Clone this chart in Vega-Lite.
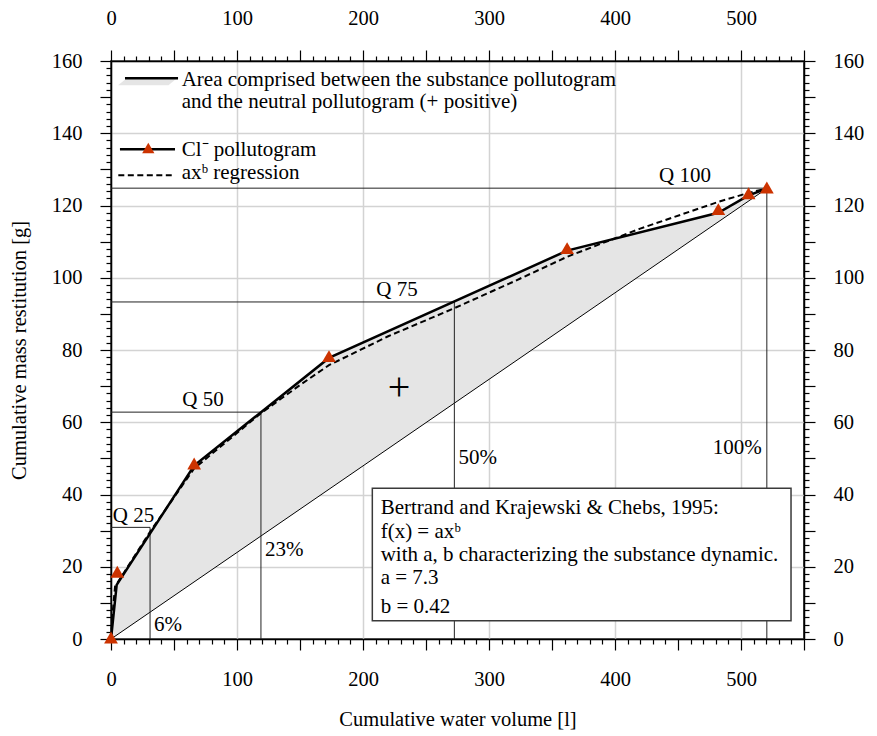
{
  "$schema": "https://vega.github.io/schema/vega-lite/v6.json",
  "width": 693,
  "height": 578,
  "autosize": "none",
  "padding": {"left": 111, "top": 61, "right": 73, "bottom": 97},
  "background": "white",
  "config": {
    "font": "Liberation Serif",
    "view": {"stroke": "black", "strokeWidth": 1.5},
    "axis": {
      "labelFont": "Liberation Serif", "labelFontSize": 20.5, "labelColor": "black",
      "titleFont": "Liberation Serif", "titleFontSize": 20.5, "titleFontWeight": "normal", "titleColor": "black",
      "domainColor": "black", "domainWidth": 1.5, "tickColor": "black", "tickWidth": 1.2,
      "gridColor": "#d3d3d3", "gridWidth": 1.5,
      "labelOverlap": false, "labelBound": false, "labelFlush": false
    },
    "text": {"font": "Liberation Serif", "fontSize": 21, "color": "black"}
  },
  "datasets": {
    "shade": [
      {"x": 0, "top": 0, "bottom": 0},
      {"x": 4.5, "top": 15, "bottom": 1.08},
      {"x": 66, "top": 48, "bottom": 15.83},
      {"x": 173, "top": 77.8, "bottom": 41.49},
      {"x": 362, "top": 107.5, "bottom": 86.81},
      {"x": 482, "top": 118, "bottom": 115.59},
      {"x": 506, "top": 122.8, "bottom": 121.34},
      {"x": 520.5, "top": 124.7, "bottom": 124.7}
    ],
    "poll": [
      {"x": 0, "y": 0},
      {"x": 4.5, "y": 15},
      {"x": 66, "y": 48},
      {"x": 173, "y": 77.8},
      {"x": 362, "y": 107.5},
      {"x": 482, "y": 118},
      {"x": 506, "y": 122.8},
      {"x": 520.5, "y": 124.7}
    ],
    "marks": [
      {"x": 0, "y": 0.4},
      {"x": 5, "y": 18.6},
      {"x": 66, "y": 48.6},
      {"x": 173, "y": 78.3},
      {"x": 362, "y": 108.2},
      {"x": 482, "y": 119},
      {"x": 506, "y": 123.4},
      {"x": 520.5, "y": 125}
    ],
    "fit": [
      {"x": 0, "y": 0},
      {"x": 1.5, "y": 8},
      {"x": 3.2, "y": 14.5},
      {"x": 10, "y": 18.2},
      {"x": 31, "y": 29.7},
      {"x": 66, "y": 47.2},
      {"x": 119, "y": 62.5},
      {"x": 150, "y": 70.3},
      {"x": 173, "y": 75.8},
      {"x": 220, "y": 83.8},
      {"x": 272, "y": 91.5},
      {"x": 320, "y": 99},
      {"x": 362, "y": 105.8},
      {"x": 420, "y": 113.6},
      {"x": 482, "y": 121},
      {"x": 506, "y": 123.5},
      {"x": 520.5, "y": 124.7}
    ],
    "neutral": [{"x1": 0, "y1": 0, "x2": 520.5, "y2": 124.7}],
    "qlines": [
      {"x1": 0, "x2": 31, "y1": 30.9, "y2": 30.9},
      {"x1": 31, "x2": 31, "y1": 0, "y2": 30.9},
      {"x1": 0, "x2": 119, "y1": 62.8, "y2": 62.8},
      {"x1": 119, "x2": 119, "y1": 0, "y2": 62.8},
      {"x1": 0, "x2": 272.5, "y1": 93.3, "y2": 93.3},
      {"x1": 272.5, "x2": 272.5, "y1": 0, "y2": 93.3},
      {"x1": 0, "x2": 520.5, "y1": 124.8, "y2": 124.8},
      {"x1": 520.5, "x2": 520.5, "y1": 0, "y2": 124.8}
    ],
    "box": [{"x1": 207.4, "x2": 539.7, "y1": 5.07, "y2": 41.7}],
    "lefttext": [
      {"x": 214, "y": 36.3, "label": "Bertrand and Krajewski & Chebs, 1995:"},
      {"x": 214, "y": 29.6, "label": "f(x) = axᵇ"},
      {"x": 214, "y": 23.3, "label": "with a, b characterizing the substance dynamic."},
      {"x": 214, "y": 16.9, "label": "a = 7.3"},
      {"x": 214, "y": 8.9, "label": "b = 0.42"},
      {"x": 56.1, "y": 154.7, "label": "Area comprised between the substance pollutogram"},
      {"x": 56.1, "y": 148.7, "label": "and the neutral pollutogram (+ positive)"},
      {"x": 56.1, "y": 135.4, "label": "Cl⁻ pollutogram"},
      {"x": 56.1, "y": 129.1, "label": "axᵇ regression"},
      {"x": 34.2, "y": 3.9, "label": "6%"},
      {"x": 122.2, "y": 24.5, "label": "23%"},
      {"x": 275.7, "y": 50.1, "label": "50%"}
    ],
    "righttext": [{"x": 516.5, "y": 53, "label": "100%"}],
    "qtext": [
      {"x": 17.9, "y": 32.5, "label": "Q 25"},
      {"x": 73, "y": 64.4, "label": "Q 50"},
      {"x": 227, "y": 94.9, "label": "Q 75"},
      {"x": 455.5, "y": 126.4, "label": "Q 100"}
    ],
    "plus": [{"x": 228.6, "y": 69.5, "label": "+"}],
    "legshade": [
      {"x": 5.6, "top": 153.3, "bottom": 153.3},
      {"x": 13.5, "top": 155.5, "bottom": 153.3},
      {"x": 45.6, "top": 155.5, "bottom": 153.3},
      {"x": 53.2, "top": 155.5, "bottom": 155.5}
    ],
    "legsolid": [
      {"x1": 11.1, "x2": 53.2, "y": 155.2},
      {"x1": 7.1, "x2": 50.8, "y": 135.6}
    ],
    "legdash": [{"x1": 5.8, "x2": 48.2, "y": 128.4}],
    "legmark": [{"x": 29.6, "y": 135.9}]
  },
  "resolve": {"axis": {"x": "independent", "y": "independent"}},
  "layer": [
    {
      "data": {"name": "shade"},
      "mark": {"type": "area", "color": "#e5e5e5", "opacity": 1},
      "encoding": {
        "x": {"field": "x", "type": "quantitative",
          "scale": {"domain": [0, 550], "nice": false, "zero": false},
          "axis": {"orient": "bottom",
            "values": [0,10,20,30,40,50,60,70,80,90,100,110,120,130,140,150,160,170,180,190,200,210,220,230,240,250,260,270,280,290,300,310,320,330,340,350,360,370,380,390,400,410,420,430,440,450,460,470,480,490,500,510,520,530,540,550],
            "labelExpr": "datum.value % 100 === 0 ? datum.label : ''",
            "tickSize": {"condition": {"test": "datum.value % 50 === 0", "value": 11}, "value": 5},
            "grid": true,
            "gridOpacity": {"condition": {"test": "datum.value % 100 === 0", "value": 1}, "value": 0},
            "labelPadding": 19,
            "title": "Cumulative water volume [l]",
            "titlePadding": 20}},
        "y": {"field": "top", "type": "quantitative",
          "scale": {"domain": [0, 160], "nice": false, "zero": false},
          "axis": {"orient": "left",
            "values": [0,2,4,6,8,10,12,14,16,18,20,22,24,26,28,30,32,34,36,38,40,42,44,46,48,50,52,54,56,58,60,62,64,66,68,70,72,74,76,78,80,82,84,86,88,90,92,94,96,98,100,102,104,106,108,110,112,114,116,118,120,122,124,126,128,130,132,134,136,138,140,142,144,146,148,150,152,154,156,158,160],
            "labelExpr": "datum.value % 20 === 0 ? datum.label : ''",
            "tickSize": {"condition": {"test": "datum.value % 10 === 0", "value": 11}, "value": 5},
            "grid": true,
            "gridOpacity": {"condition": {"test": "datum.value % 20 === 0", "value": 1}, "value": 0},
            "labelPadding": 18,
            "title": "Cumulative mass restitution [g]",
            "titlePadding": 22}},
        "y2": {"field": "bottom"}
      }
    },
    {
      "data": {"name": "neutral"},
      "mark": {"type": "rule", "color": "black", "strokeWidth": 1},
      "encoding": {
        "x": {"field": "x1", "type": "quantitative",
          "axis": {"orient": "top",
            "values": [0,10,20,30,40,50,60,70,80,90,100,110,120,130,140,150,160,170,180,190,200,210,220,230,240,250,260,270,280,290,300,310,320,330,340,350,360,370,380,390,400,410,420,430,440,450,460,470,480,490,500,510,520,530,540,550],
            "labelExpr": "datum.value % 100 === 0 ? datum.label : ''",
            "tickSize": {"condition": {"test": "datum.value % 50 === 0", "value": 11}, "value": 5},
            "grid": false, "labelPadding": 22, "title": null}},
        "x2": {"field": "x2"},
        "y": {"field": "y1", "type": "quantitative",
          "axis": {"orient": "right",
            "values": [0,2,4,6,8,10,12,14,16,18,20,22,24,26,28,30,32,34,36,38,40,42,44,46,48,50,52,54,56,58,60,62,64,66,68,70,72,74,76,78,80,82,84,86,88,90,92,94,96,98,100,102,104,106,108,110,112,114,116,118,120,122,124,126,128,130,132,134,136,138,140,142,144,146,148,150,152,154,156,158,160],
            "labelExpr": "datum.value % 20 === 0 ? datum.label : ''",
            "tickSize": {"condition": {"test": "datum.value % 10 === 0", "value": 11}, "value": 5},
            "grid": false, "labelPadding": 18, "title": null}},
        "y2": {"field": "y2"}
      }
    },
    {
      "data": {"name": "qlines"},
      "mark": {"type": "rule", "color": "#222222", "strokeWidth": 1},
      "encoding": {
        "x": {"field": "x1", "type": "quantitative", "axis": null},
        "x2": {"field": "x2"},
        "y": {"field": "y1", "type": "quantitative", "axis": null},
        "y2": {"field": "y2"}
      }
    },
    {
      "data": {"name": "box"},
      "mark": {"type": "rect", "fill": "white", "stroke": "#3a3a3a", "strokeWidth": 1.5},
      "encoding": {
        "x": {"field": "x1", "type": "quantitative", "axis": null},
        "x2": {"field": "x2"},
        "y": {"field": "y1", "type": "quantitative", "axis": null},
        "y2": {"field": "y2"}
      }
    },
    {
      "data": {"name": "fit"},
      "mark": {"type": "line", "color": "black", "strokeWidth": 2, "strokeDash": [6, 3.5]},
      "encoding": {
        "x": {"field": "x", "type": "quantitative", "axis": null},
        "y": {"field": "y", "type": "quantitative", "axis": null}
      }
    },
    {
      "data": {"name": "poll"},
      "mark": {"type": "line", "color": "black", "strokeWidth": 2.5},
      "encoding": {
        "x": {"field": "x", "type": "quantitative", "axis": null},
        "y": {"field": "y", "type": "quantitative", "axis": null}
      }
    },
    {
      "data": {"name": "marks"},
      "mark": {"type": "point", "shape": "triangle-up", "filled": true, "color": "#cc3300", "opacity": 1, "size": 190},
      "encoding": {
        "x": {"field": "x", "type": "quantitative", "axis": null},
        "y": {"field": "y", "type": "quantitative", "axis": null}
      }
    },
    {
      "data": {"name": "legshade"},
      "mark": {"type": "area", "color": "#e5e5e5", "opacity": 1},
      "encoding": {
        "x": {"field": "x", "type": "quantitative", "axis": null},
        "y": {"field": "top", "type": "quantitative", "axis": null},
        "y2": {"field": "bottom"}
      }
    },
    {
      "data": {"name": "legsolid"},
      "mark": {"type": "rule", "color": "black", "strokeWidth": 2.5},
      "encoding": {
        "x": {"field": "x1", "type": "quantitative", "axis": null},
        "x2": {"field": "x2"},
        "y": {"field": "y", "type": "quantitative", "axis": null}
      }
    },
    {
      "data": {"name": "legdash"},
      "mark": {"type": "rule", "color": "black", "strokeWidth": 2, "strokeDash": [6, 3.5]},
      "encoding": {
        "x": {"field": "x1", "type": "quantitative", "axis": null},
        "x2": {"field": "x2"},
        "y": {"field": "y", "type": "quantitative", "axis": null}
      }
    },
    {
      "data": {"name": "legmark"},
      "mark": {"type": "point", "shape": "triangle-up", "filled": true, "color": "#cc3300", "opacity": 1, "size": 150},
      "encoding": {
        "x": {"field": "x", "type": "quantitative", "axis": null},
        "y": {"field": "y", "type": "quantitative", "axis": null}
      }
    },
    {
      "data": {"name": "lefttext"},
      "mark": {"type": "text", "align": "left", "baseline": "middle", "fontSize": 21},
      "encoding": {
        "x": {"field": "x", "type": "quantitative", "axis": null},
        "y": {"field": "y", "type": "quantitative", "axis": null},
        "text": {"field": "label"}
      }
    },
    {
      "data": {"name": "righttext"},
      "mark": {"type": "text", "align": "right", "baseline": "middle", "fontSize": 21},
      "encoding": {
        "x": {"field": "x", "type": "quantitative", "axis": null},
        "y": {"field": "y", "type": "quantitative", "axis": null},
        "text": {"field": "label"}
      }
    },
    {
      "data": {"name": "qtext"},
      "mark": {"type": "text", "align": "center", "baseline": "alphabetic", "fontSize": 21},
      "encoding": {
        "x": {"field": "x", "type": "quantitative", "axis": null},
        "y": {"field": "y", "type": "quantitative", "axis": null},
        "text": {"field": "label"}
      }
    },
    {
      "data": {"name": "plus"},
      "mark": {"type": "text", "align": "center", "baseline": "middle", "fontSize": 40},
      "encoding": {
        "x": {"field": "x", "type": "quantitative", "axis": null},
        "y": {"field": "y", "type": "quantitative", "axis": null},
        "text": {"field": "label"}
      }
    }
  ]
}
